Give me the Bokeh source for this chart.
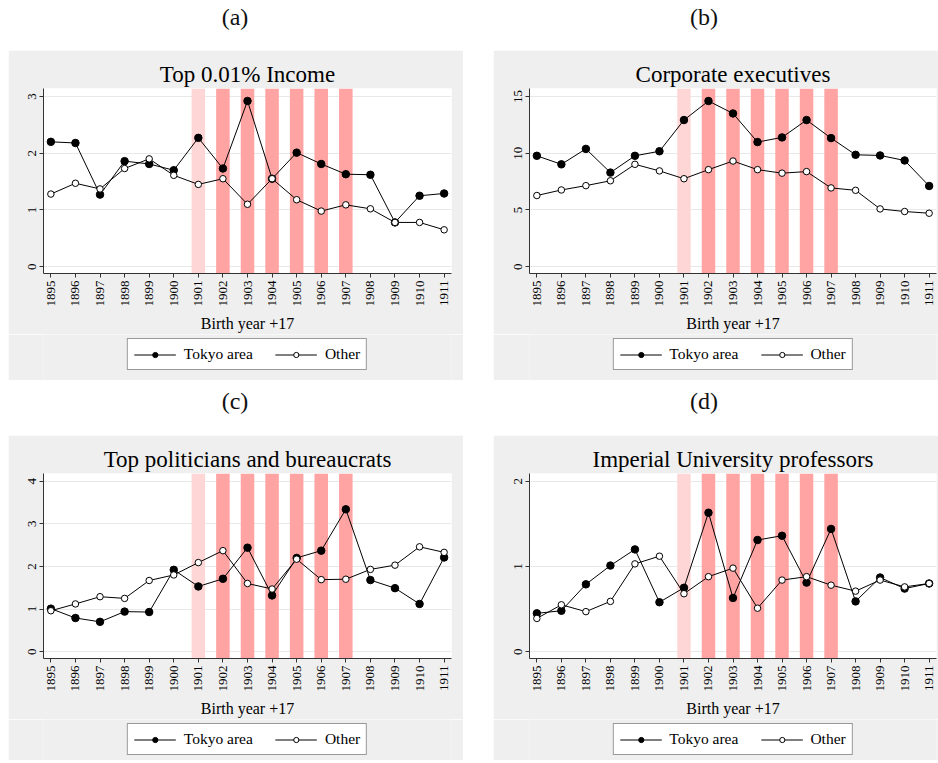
import math
from bokeh.plotting import figure
from bokeh.layouts import column, row, Spacer
from bokeh.models import Div, FixedTicker, Legend, LegendItem, ColumnDataSource, Range1d
from bokeh.embed import file_html
from bokeh.resources import INLINE

years = list(range(1895, 1912))
income_tokyo = [2.20, 2.18, 1.27, 1.86, 1.81, 1.70, 2.27, 1.73, 2.92, 1.55, 2.01, 1.81, 1.63, 1.62, 0.78, 1.25, 1.29]
income_other = [1.28, 1.47, 1.37, 1.73, 1.90, 1.61, 1.45, 1.55, 1.10, 1.55, 1.18, 0.98, 1.09, 1.02, 0.78, 0.78, 0.65]
exec_tokyo = [9.77, 9.02, 10.38, 8.29, 9.77, 10.17, 12.92, 14.60, 13.50, 10.98, 11.39, 12.92, 11.33, 9.86, 9.80, 9.36, 7.11]
exec_other = [6.27, 6.76, 7.14, 7.57, 9.02, 8.44, 7.75, 8.55, 9.31, 8.55, 8.24, 8.38, 6.94, 6.73, 5.09, 4.86, 4.71]
pol_tokyo = [1.01, 0.79, 0.70, 0.94, 0.93, 1.92, 1.53, 1.71, 2.44, 1.32, 2.20, 2.37, 3.34, 1.68, 1.49, 1.12, 2.21]
pol_other = [0.96, 1.12, 1.29, 1.25, 1.67, 1.80, 2.09, 2.37, 1.60, 1.47, 2.17, 1.69, 1.70, 1.93, 2.03, 2.46, 2.33]
prof_tokyo = [0.45, 0.48, 0.79, 1.01, 1.20, 0.58, 0.75, 1.63, 0.63, 1.31, 1.36, 0.81, 1.44, 0.59, 0.87, 0.74, 0.80]
prof_other = [0.39, 0.55, 0.47, 0.59, 1.03, 1.12, 0.68, 0.88, 0.98, 0.51, 0.84, 0.88, 0.78, 0.71, 0.84, 0.76, 0.80]

shade_years = [1901, 1902, 1903, 1904, 1905, 1906, 1907]
shade_colors = ["#FFD6D6", "#FFA3A3", "#FFA3A3", "#FFA3A3", "#FFA3A3", "#FFA3A3", "#FFA3A3"]

income_ticks = [0, 1, 2, 3]
exec_ticks = [0, 5, 10, 15]
pol_ticks = [0, 1, 2, 3, 4]
prof_ticks = [0, 1, 2]

legend_labels = ["Tokyo area", "Other"]

SERIF = "Liberation Serif"
GRAY = "#EFEFEF"


def make_panel(title, tokyo, other, ticks, y0, y1, width, main_h, leg_h, left, right):
    p = figure(width=width, height=main_h, output_backend="svg", toolbar_location=None,
               x_range=Range1d(1894.7, 1911.3), y_range=Range1d(y0, y1),
               min_border_left=left, min_border_right=right, min_border_top=38,
               min_border_bottom=58)
    p.background_fill_color = "white"
    p.border_fill_color = GRAY
    p.outline_line_color = None
    p.title.text = title
    p.title.align = "center"
    p.title.text_font = SERIF
    p.title.text_font_size = "23px"
    p.title.text_font_style = "normal"
    p.title.text_color = "black"
    p.title.standoff = 3

    src = ColumnDataSource(dict(x=shade_years, c=shade_colors,
                                top=[y1] * len(shade_years), bottom=[y0] * len(shade_years)))
    p.vbar(x="x", width=0.55, top="top", bottom="bottom", fill_color="c", line_color=None, source=src)

    p.line(years, tokyo, line_color="black", line_width=1)
    p.scatter(years, tokyo, size=7.5, fill_color="black", line_color="black")
    p.line(years, other, line_color="black", line_width=1)
    p.scatter(years, other, size=6.5, fill_color="white", line_color="black", line_width=1)

    p.xaxis.ticker = FixedTicker(ticks=years)
    p.yaxis.ticker = FixedTicker(ticks=ticks)
    p.xaxis.major_label_orientation = math.pi / 2
    p.yaxis.major_label_orientation = "vertical"
    for ax in (p.xaxis, p.yaxis):
        ax.major_label_text_font = SERIF
        ax.major_label_text_font_size = "13px"
        ax.major_label_text_color = "black"
        ax.axis_line_color = "#333333"
        ax.major_tick_line_color = "#333333"
        ax.major_tick_out = 4
        ax.major_tick_in = 0
        ax.minor_tick_line_color = None
        ax.major_label_standoff = 3
    p.xaxis.axis_label = "Birth year +17"
    p.xaxis.axis_label_text_font = SERIF
    p.xaxis.axis_label_text_font_size = "16px"
    p.xaxis.axis_label_text_font_style = "normal"
    p.xaxis.axis_label_text_color = "black"
    p.xaxis.axis_label_standoff = 5
    p.xgrid.grid_line_color = None
    p.ygrid.grid_line_color = "#E8E8E8"
    p.ygrid.grid_line_width = 1

    # legend strip (kept inside the same grey panel); its glyphs lie outside its range
    q = figure(width=width, height=leg_h, output_backend="svg", toolbar_location=None,
               x_range=Range1d(0, 1), y_range=Range1d(0, 1),
               min_border_left=left, min_border_right=right, min_border_top=0, min_border_bottom=0)
    q.axis.visible = False
    q.grid.visible = False
    q.outline_line_color = None
    q.background_fill_color = GRAY
    q.border_fill_color = GRAY
    l1 = q.line(years, tokyo, line_color="black", line_width=1)
    s1 = q.scatter(years, tokyo, fill_color="black", line_color="black")
    l2 = q.line(years, other, line_color="black", line_width=1)
    s2 = q.scatter(years, other, fill_color="white", line_color="black")
    legend = Legend(items=[LegendItem(label=legend_labels[0], renderers=[l1, s1]),
                           LegendItem(label=legend_labels[1], renderers=[l2, s2])],
                    orientation="horizontal", location="top_center")
    legend.label_text_font = SERIF
    legend.label_text_font_size = "15.5px"
    legend.label_text_color = "black"
    legend.glyph_width = 42
    legend.glyph_height = 13
    legend.label_height = 13
    legend.spacing = 22
    legend.padding = 6
    legend.margin = 4
    legend.label_standoff = 8
    legend.border_line_color = "#333333"
    legend.border_line_width = 1
    legend.background_fill_color = "white"
    legend.background_fill_alpha = 1
    q.add_layout(legend)
    return column(p, q, spacing=0)


pa = make_panel("Top 0.01% Income", income_tokyo, income_other, income_ticks, -0.12, 3.14, 455, 284, 46, 35, 12)
pb = make_panel("Corporate executives", exec_tokyo, exec_other, exec_ticks, -0.6, 15.7, 445, 284, 46, 36, 2)
pc = make_panel("Top politicians and bureaucrats", pol_tokyo, pol_other, pol_ticks, -0.16, 4.18, 455, 284, 41, 35, 12)
pd_ = make_panel("Imperial University professors", prof_tokyo, prof_other, prof_ticks, -0.08, 2.09, 445, 284, 41, 36, 2)


def label(txt, w, h, pad):
    return Div(text=f'<div style="width:{w}px;text-align:center;font-family:\'{SERIF}\';'
                    f'font-size:24px;color:#111;padding-top:{pad}px;">{txt}</div>',
               width=w, height=h, margin=(0, 0, 0, 0))


top_labels = row(label("(a)", 470, 50, 0), label("(b)", 468, 50, 0), spacing=0)
mid_labels = row(label("(c)", 470, 55, 4), label("(d)", 468, 55, 4), spacing=0)
row1 = row(Spacer(width=8, height=330), pa, Spacer(width=30, height=330), pb, spacing=0)
row2 = row(Spacer(width=8, height=325), pc, Spacer(width=30, height=325), pd_, spacing=0)
layout = column(top_labels, row1, mid_labels, row2, spacing=0)

open("out.html", "w").write(file_html(layout, INLINE))
